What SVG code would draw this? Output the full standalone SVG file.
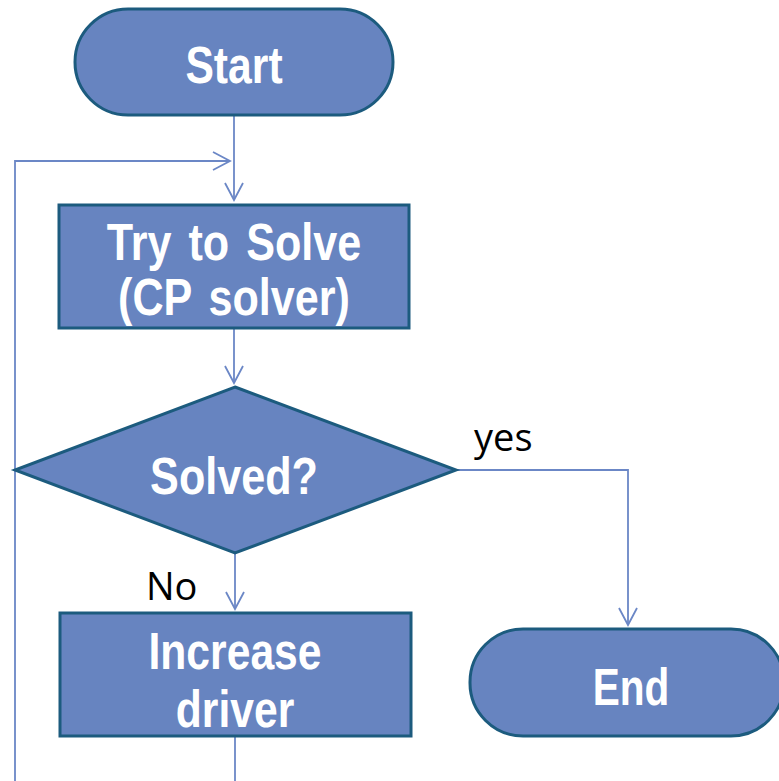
<svg xmlns="http://www.w3.org/2000/svg" width="779" height="781" viewBox="0 0 779 781">
  <defs>
    <marker id="arrow" markerUnits="userSpaceOnUse" markerWidth="24" markerHeight="24" viewBox="-20 -12 24 24" refX="0" refY="0" orient="auto">
      <path d="M -17 -9 L 0 0 L -17 9" fill="none" stroke="#6b87c6" stroke-width="1.8"/>
    </marker>
    <style>
      .shape { fill: #6784c0; stroke: #1c5b7e; stroke-width: 3; }
      .label { font-family: "Liberation Sans", Arial, sans-serif; font-weight: bold; font-size: 52px; fill: #ffffff; text-anchor: middle; }
      .note { font-family: "Open Sans", "Noto Sans", sans-serif; font-size: 38px; fill: #000000; }
      .link { fill: none; stroke: #6b87c6; stroke-width: 1.8; }
    </style>
  </defs>
  <rect width="779" height="781" fill="#ffffff"/>

  <g id="connectors">
    <path class="link" d="M 234 115 L 234 200" marker-end="url(#arrow)"/>
    <path class="link" d="M 15 781 L 15 161 L 230 161" marker-end="url(#arrow)"/>
    <path class="link" d="M 234 328 L 234 383" marker-end="url(#arrow)"/>
    <path class="link" d="M 456 470 L 628 470 L 628 625" marker-end="url(#arrow)"/>
    <path class="link" d="M 235 553 L 235 609" marker-end="url(#arrow)"/>
    <path class="link" d="M 235 736 L 235 781"/>
  </g>

  <g id="start">
    <rect class="shape" x="75" y="9" width="318" height="106" rx="53" ry="53"/>
    <text class="label" transform="translate(234 83) scale(0.82 1)">Start</text>
  </g>

  <g id="try-solve">
    <rect class="shape" x="59" y="205" width="350" height="123"/>
    <text class="label" word-spacing="6" transform="translate(234 260) scale(0.83 1)">Try to Solve</text>
    <text class="label" word-spacing="6" transform="translate(234 315) scale(0.83 1)">(CP solver)</text>
  </g>

  <g id="solved">
    <polygon class="shape" points="235,387 456,470 235,553 15,470"/>
    <text class="label" transform="translate(234 494) scale(0.83 1)">Solved?</text>
  </g>

  <g id="increase-driver">
    <rect class="shape" x="60" y="613" width="351" height="123"/>
    <text class="label" transform="translate(235 669) scale(0.82 1)">Increase</text>
    <text class="label" transform="translate(235 727) scale(0.82 1)">driver</text>
  </g>

  <g id="end">
    <rect class="shape" x="470" y="629" width="314" height="107" rx="53" ry="53"/>
    <text class="label" transform="translate(631 705) scale(0.78 1)">End</text>
  </g>

  <g id="edge-labels">
    <text class="note" x="474" y="451" font-size="41">yes</text>
    <text class="note" x="146" y="600">No</text>
  </g>
</svg>
